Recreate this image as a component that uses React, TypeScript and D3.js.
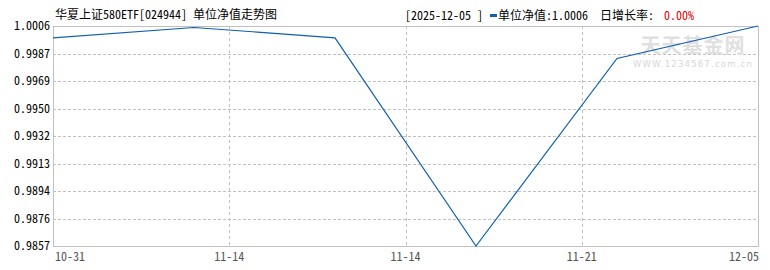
import React from "react";
import * as d3 from "d3";

const dates = ["10-31", "11-07", "11-14", "11-21", "11-28", "12-05"];
const navValues = [0.9998, 1.0005, 0.9998, 0.9857, 0.9984, 1.0006];
const xTickLabels = ["10-31", "11-14", "11-14", "11-21", "12-05"];
const yTickLabels = ["1.0006", "0.9987", "0.9969", "0.9950", "0.9932", "0.9913", "0.9894", "0.9876", "0.9857"];
const titleText = "华夏上证580ETF[024944] 单位净值走势图";
const headerDate = "[2025-12-05 ]";
const headerNav = "单位净值:1.0006";
const headerGrowthLabel = "日增长率:";
const headerGrowth = "0.00%";

const W = 770;
const H = 270;
const M = { left: 53, right: 758, top: 26, bottom: 246 };
const FONT = '"Noto Sans Mono CJK SC", "Noto Sans CJK SC", "DejaVu Sans Mono", monospace';

export default function App() {
  const yMin = d3.min(navValues) as number;
  const yMax = d3.max(navValues) as number;
  const y = d3.scaleLinear().domain([yMin, yMax]).range([M.bottom, M.top]);
  const x = d3.scaleLinear().domain([0, dates.length - 1]).range([M.left, M.right]);
  const xt = d3.scaleLinear().domain([0, xTickLabels.length - 1]).range([M.left, M.right]);
  const yt = d3.scaleLinear().domain([0, yTickLabels.length - 1]).range([M.top, M.bottom]);

  const line = d3
    .line<number>()
    .x((_, i) => x(i))
    .y((d) => y(d));

  const snap = (v: number) => Math.round(v) + 0.5;

  return (
    <div style={{ position: "absolute", left: 0, top: 0 }}>
      <svg width={W} height={H} style={{ display: "block", background: "#fff" }} fontFamily={FONT}>
        {/* horizontal grid */}
        {yTickLabels.map((_, i) =>
          i > 0 && i < yTickLabels.length - 1 ? (
            <line
              key={"hg" + i}
              x1={M.left}
              x2={M.right}
              y1={snap(yt(i))}
              y2={snap(yt(i))}
              stroke="#c0c0c0"
              strokeDasharray="3,2"
            />
          ) : null
        )}
        {/* vertical grid */}
        {xTickLabels.map((_, i) =>
          i > 0 && i < xTickLabels.length - 1 ? (
            <line
              key={"vg" + i}
              x1={snap(xt(i))}
              x2={snap(xt(i))}
              y1={M.top}
              y2={M.bottom}
              stroke="#c0c0c0"
              strokeDasharray="3,3"
            />
          ) : null
        )}
        {/* border */}
        <rect
          x={M.left + 0.5}
          y={M.top + 0.5}
          width={M.right - M.left}
          height={M.bottom - M.top}
          fill="none"
          stroke="#c0c0c0"
        />
        {/* watermark */}
        <text x={693} y={53} textAnchor="middle" fontSize={20} fontWeight="bold" fill="#e0e0e0" letterSpacing={1} fontFamily='"Noto Sans CJK SC", sans-serif'>
          天天基金网
        </text>
        <text x={693} y={67} textAnchor="middle" fontSize={8.5} fill="#d6d6d6" letterSpacing={1.2} fontFamily='"DejaVu Sans", sans-serif'>
          WWW.1234567.com.cn
        </text>
        {/* line */}
        <path d={line(navValues) || ""} fill="none" stroke="#0f5fb0" strokeWidth={1.2} />
        {/* y labels */}
        {yTickLabels.map((t, i) => (
          <text key={"yl" + i} x={50} y={yt(i)} dy="0.35em" textAnchor="end" fontSize={12} fill="#000">
            {t}
          </text>
        ))}
        {/* x labels */}
        {xTickLabels.map((t, i) => {
          const last = i === xTickLabels.length - 1;
          const first = i === 0;
          return (
            <text
              key={"xl" + i}
              x={first ? M.left + 2 : last ? M.right + 1 : xt(i)}
              y={261}
              textAnchor={first ? "start" : last ? "end" : "middle"}
              fontSize={12}
              fill="#555"
            >
              {t}
            </text>
          );
        })}
        {/* title */}
        <text x={55} y={19} fontSize={12} fill="#000">
          {titleText}
        </text>
        {/* header */}
        <text x={405} y={20} fontSize={12} fill="#000">
          {headerDate}
        </text>
        <rect x={490} y={14} width={7} height={3} fill="#0f5fb0" />
        <text x={498} y={20} fontSize={12} fill="#000">
          {headerNav}
        </text>
        <text x={600} y={20} fontSize={12} fill="#000">
          {headerGrowthLabel}
        </text>
        <text x={664} y={20} fontSize={12} fill="#e00000">
          {headerGrowth}
        </text>
      </svg>
    </div>
  );
}
